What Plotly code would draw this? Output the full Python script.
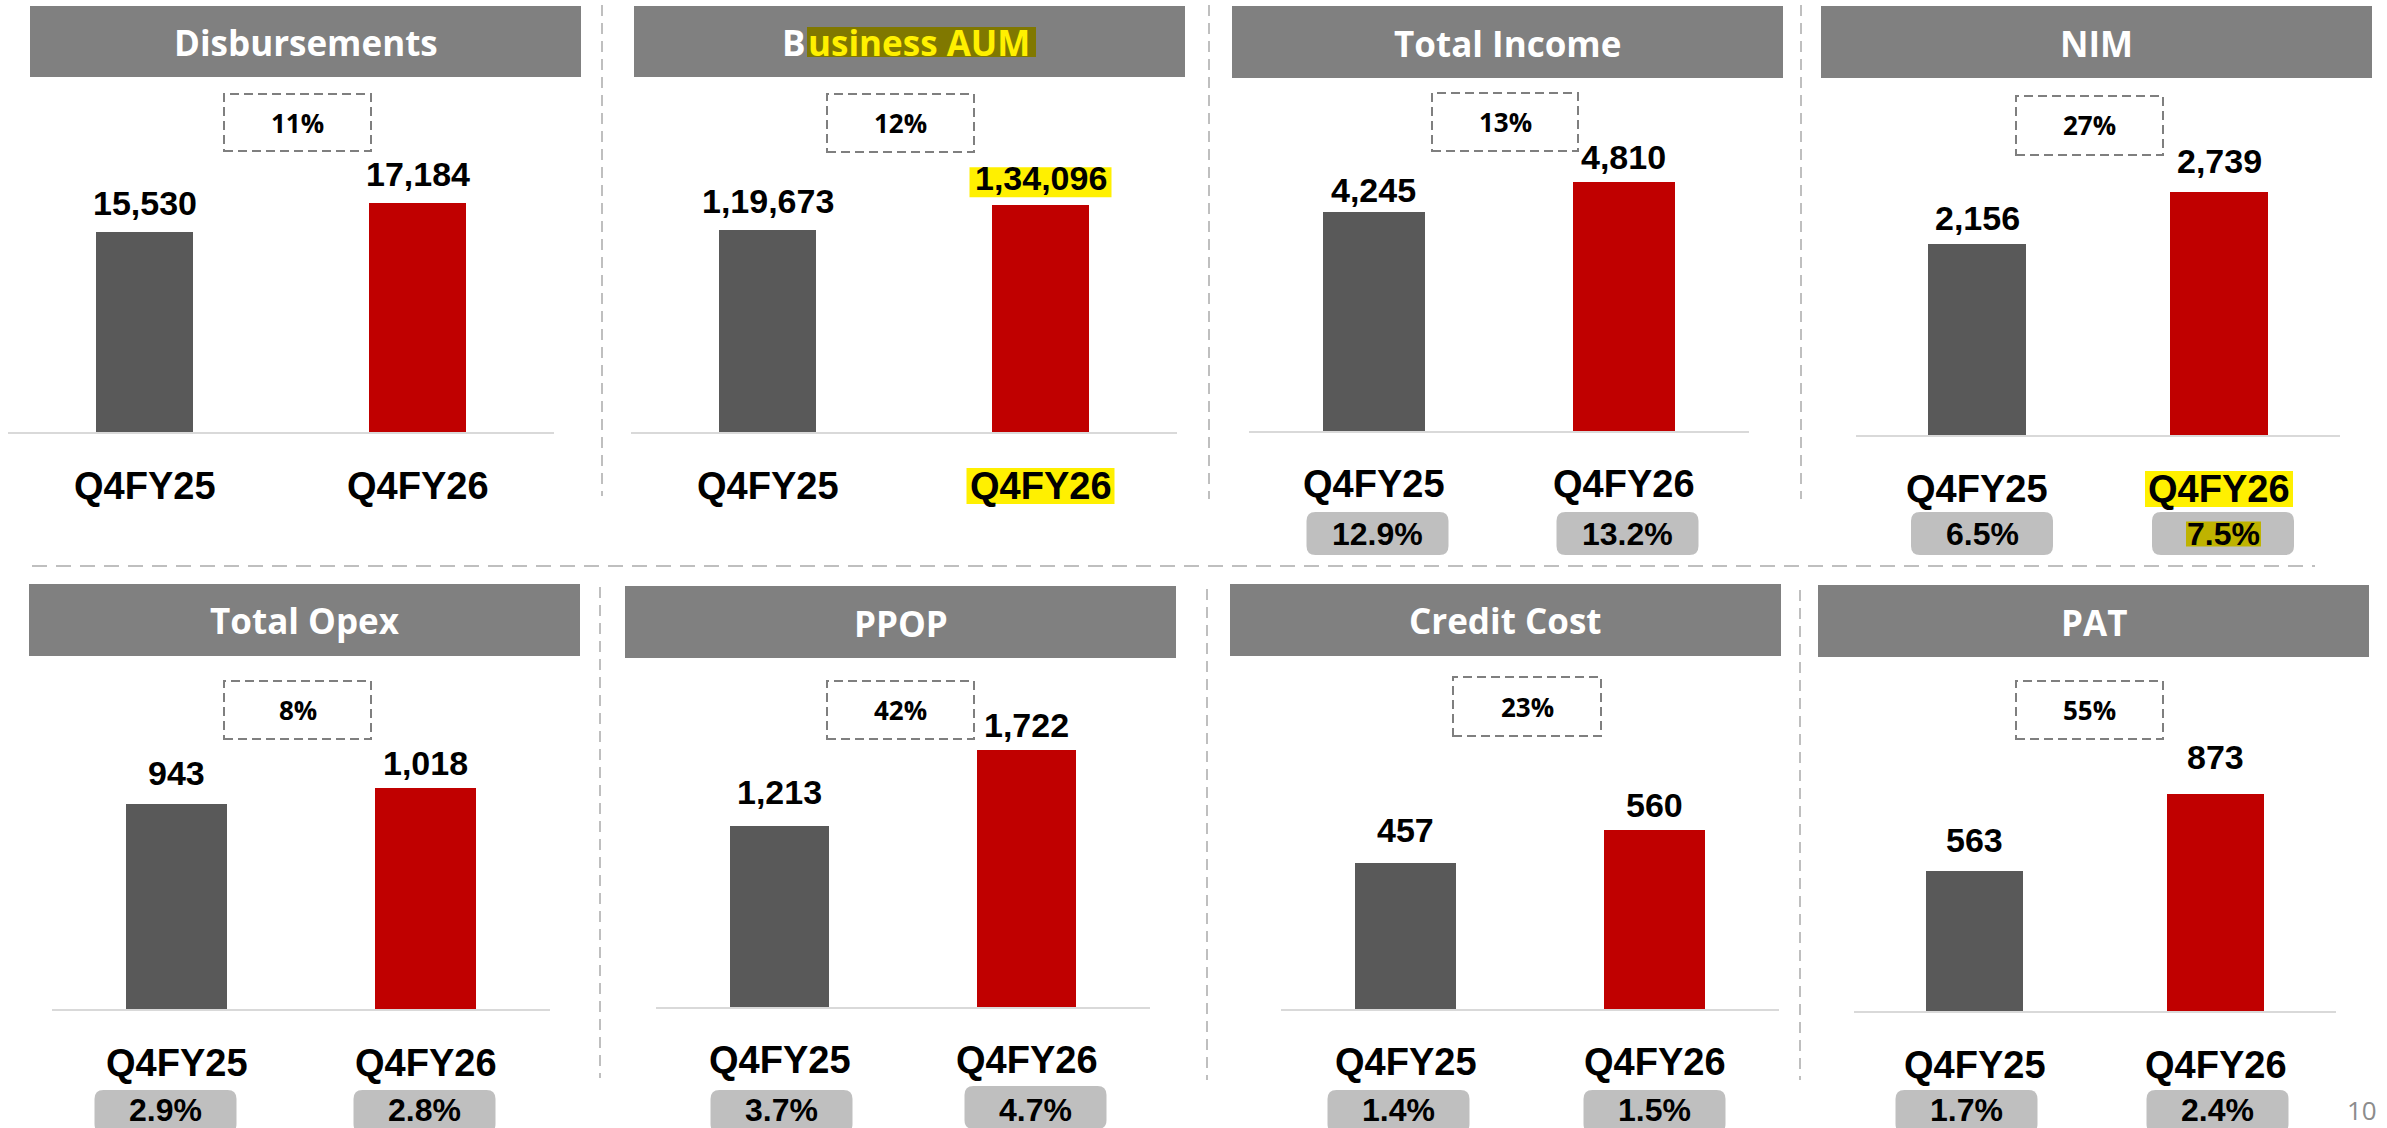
import plotly.graph_objects as go

W, H = 2387, 1128

# ---------------- data ----------------
periods = ["Q4FY25", "Q4FY26"]
titles = ["Disbursements", "Business AUM", "Total Income", "NIM",
          "Total Opex", "PPOP", "Credit Cost", "PAT"]
prev_vals = [15530, 119673, 4245, 2156, 943, 1213, 457, 563]
curr_vals = [17184, 134096, 4810, 2739, 1018, 1722, 560, 873]
growth_pct = ["11%", "12%", "13%", "27%", "8%", "42%", "23%", "55%"]
ratio_prev = [None, None, "12.9%", "6.5%", "2.9%", "3.7%", "1.4%", "1.7%"]
ratio_curr = [None, None, "13.2%", "7.5%", "2.8%", "4.7%", "1.5%", "2.4%"]
page_number = "10"


def indian(n):
    s = str(int(n))
    if len(s) <= 3:
        return s
    last3, rest = s[-3:], s[:-3]
    parts = []
    while len(rest) > 2:
        parts.insert(0, rest[-2:])
        rest = rest[:-2]
    if rest:
        parts.insert(0, rest)
    return ",".join(parts + [last3])


# ---------------- layout constants (pixels) ----------------
PX = [(8, 554), (631, 1177), (1248.5, 1748.5), (1856, 2340),
      (52, 550), (656, 1150), (1281, 1779), (1854, 2336)]
PY = [(90, 432), (90, 432), (90, 431), (90, 435),
      (680, 1009), (680, 1007), (680, 1009), (680, 1011)]
YR = [(4123, 23629), (0, 202307), (0, 6598), (0, 3892),
      (0, 1514), (0, 2191), (0, 1029.6), (0, 1334.4)]
BARW = [0.355, 0.355, 0.405, 0.405, 0.405, 0.40, 0.405, 0.40]
HEAD = [(30, 581, 6, 77), (634, 1185, 6, 77), (1232, 1783, 6, 78), (1821, 2372, 6, 78),
        (29, 580, 584, 656), (625, 1176, 586, 658), (1230, 1781, 584, 656), (1818, 2369, 585, 657)]
GBOX = [(224, 371, 94, 151), (827, 974, 94, 152), (1432, 1578, 93, 151), (2016, 2163, 96, 155),
        (224, 371, 681, 739), (827, 974, 681, 739), (1453, 1601, 677, 736), (2016, 2163, 681, 739)]
CAT_Y = [486, 486, 484, 489, 1063, 1060, 1062, 1065]
LABEL_GAP = [(16, 16), (16, 14), (9, 12), (13, 18), (18, 12), (21, 12), (20, 12), (18, 24)]
PILL_Y = [None, None, (533.5, 533.5), (533.5, 533.5), (1111.5, 1111.5),
          (1111.5, 1107.5), (1111.5, 1111.5), (1111.5, 1111.5)]
PILL_TY = [None, None, 534, 534, 1110, 1110, 1110, 1110]
PILL_DX = [None, None, (4, 4), (5, 4), (-11, -1), (2, 9), (-7, 0), (-8, 2)]
PILL_W, PILL_H, PILL_R = 142, 43, 9

GRAY_BAR = "#595959"
RED_BAR = "#C00000"
HEADER_BG = "#808080"
SEP = "#BFBFBF"
YELLOW = "#FFF000"

TITLE_FONT = dict(family="Open Sans", size=35, color="white")
GROW_FONT = dict(family="Open Sans", size=26, color="black")
VAL_FONT = dict(family="Liberation Sans, Arial", size=34, color="black")
CAT_FONT = dict(family="Liberation Sans, Arial", size=38, color="black")
PILL_FONT = dict(family="Liberation Sans, Arial", size=32, color="black")


def py(p):
    return 1 - p / H


def pxr(p):
    return p / W


def rrect(w, h, r, dx=0.0):
    x0, x1 = dx - w / 2, dx + w / 2
    y0, y1 = -h / 2, h / 2
    return (f"M{x0 + r},{y0} L{x1 - r},{y0} Q{x1},{y0} {x1},{y0 + r} "
            f"L{x1},{y1 - r} Q{x1},{y1} {x1 - r},{y1} L{x0 + r},{y1} "
            f"Q{x0},{y1} {x0},{y1 - r} L{x0},{y0 + r} Q{x0},{y0} {x0 + r},{y0} Z")


fig = go.Figure()
shapes = []
annotations = []
layout_axes = {}

for i in range(8):
    n = i + 1
    xa = "x" if n == 1 else f"x{n}"
    ya = "y" if n == 1 else f"y{n}"
    vals = [prev_vals[i], curr_vals[i]]
    fig.add_trace(go.Bar(
        x=periods, y=vals, width=BARW[i],
        marker=dict(color=[GRAY_BAR, RED_BAR], line=dict(width=0)),
        xaxis=xa, yaxis=ya, hoverinfo="skip", showlegend=False,
    ))
    xkey = "xaxis" if n == 1 else f"xaxis{n}"
    ykey = "yaxis" if n == 1 else f"yaxis{n}"
    layout_axes[xkey] = dict(
        domain=[pxr(PX[i][0]), pxr(PX[i][1])], anchor=ya, type="category",
        range=[-0.5, 1.5], showgrid=False, zeroline=False, showticklabels=False,
        ticks="", showline=True, linecolor="#D9D9D9", linewidth=2, fixedrange=True,
    )
    layout_axes[ykey] = dict(
        domain=[py(PY[i][1]), py(PY[i][0])], anchor=xa, range=list(YR[i]),
        visible=False, fixedrange=True,
    )

    # header
    hx0, hx1, hy0, hy1 = HEAD[i]
    shapes.append(dict(type="rect", xref="paper", yref="paper",
                       x0=pxr(hx0), x1=pxr(hx1), y0=py(hy1), y1=py(hy0),
                       fillcolor=HEADER_BG, line=dict(width=0), layer="below"))
    hc = (hy0 + hy1) / 2 + 1
    if titles[i] == "Business AUM":
        split_x = 807
        shapes.append(dict(type="rect", xref="paper", yref="paper",
                           x0=pxr(split_x), x1=pxr(1036), y0=py(57), y1=py(27),
                           fillcolor="#807800", line=dict(width=0), layer="below"))
        annotations.append(dict(xref="paper", yref="paper", x=pxr(split_x), y=py(hc),
                                text="<b>B</b>", showarrow=False, xanchor="right",
                                yanchor="middle", font=TITLE_FONT, borderpad=0))
        annotations.append(dict(xref="paper", yref="paper", x=pxr(split_x), y=py(hc),
                                text="<b>usiness AUM</b>", showarrow=False, xanchor="left",
                                yanchor="middle", font=dict(TITLE_FONT, color=YELLOW),
                                borderpad=0))
    else:
        annotations.append(dict(xref="paper", yref="paper", x=pxr((hx0 + hx1) / 2), y=py(hc),
                                text=f"<b>{titles[i]}</b>", showarrow=False,
                                xanchor="center", yanchor="middle", font=TITLE_FONT))

    # growth box
    gx0, gx1, gy0, gy1 = GBOX[i]
    shapes.append(dict(type="rect", xref="paper", yref="paper",
                       x0=pxr(gx0), x1=pxr(gx1), y0=py(gy1), y1=py(gy0),
                       line=dict(color="#7F7F7F", width=2, dash="9px,5px"),
                       fillcolor="rgba(0,0,0,0)"))
    annotations.append(dict(xref="paper", yref="paper", x=pxr((gx0 + gx1) / 2),
                            y=py((gy0 + gy1) / 2), text=f"<b>{growth_pct[i]}</b>",
                            showarrow=False, xanchor="center", yanchor="middle",
                            font=GROW_FONT))

    # value labels
    for j in range(2):
        if titles[i] == "Business AUM" and j == 1:
            shapes.append(dict(type="rect", xref=xa, yref=ya,
                               xsizemode="pixel", xanchor=j, x0=-71, x1=71,
                               ysizemode="pixel", yanchor=vals[j], y0=8, y1=38,
                               fillcolor=YELLOW, line=dict(width=0)))
        annotations.append(dict(xref=xa, yref=ya, x=periods[j], y=vals[j],
                                text=f"<b>{indian(vals[j])}</b>", showarrow=False,
                                xanchor="center", yanchor="bottom",
                                yshift=LABEL_GAP[i][j] - 7, borderpad=0, font=VAL_FONT))

    # category labels
    for j in range(2):
        highlighted = (j == 1 and titles[i] in ("Business AUM", "NIM"))
        if highlighted:
            shapes.append(dict(type="rect", xref=xa, yref="paper",
                               xsizemode="pixel", xanchor=j, x0=-74, x1=74,
                               y0=py(CAT_Y[i] + 18), y1=py(CAT_Y[i] - 18),
                               fillcolor=YELLOW, line=dict(width=0)))
        annotations.append(dict(xref=xa, yref="paper", x=periods[j], y=py(CAT_Y[i]),
                                text=f"<b>{periods[j]}</b>", showarrow=False,
                                xanchor="center", yanchor="middle", font=CAT_FONT))

    # ratio pills
    if ratio_prev[i] is not None:
        ratios = [ratio_prev[i], ratio_curr[i]]
        for j in range(2):
            dx = PILL_DX[i][j]
            shapes.append(dict(type="path", xref=xa, yref="paper",
                               xsizemode="pixel", xanchor=j,
                               ysizemode="pixel", yanchor=py(PILL_Y[i][j]),
                               path=rrect(PILL_W, PILL_H, PILL_R, dx),
                               fillcolor="#BFBFBF", line=dict(width=0)))
            if titles[i] == "NIM" and j == 1:
                shapes.append(dict(type="rect", xref=xa, yref="paper",
                                   xsizemode="pixel", xanchor=j, x0=dx - 37, x1=dx + 38,
                                   y0=py(PILL_TY[i] + 12.5), y1=py(PILL_TY[i] - 12.5),
                                   fillcolor="#BFB300", line=dict(width=0)))
            annotations.append(dict(xref=xa, yref="paper", x=periods[j], y=py(PILL_TY[i]),
                                    xshift=dx, text=f"<b>{ratios[j]}</b>", showarrow=False,
                                    xanchor="center", yanchor="middle", font=PILL_FONT))

# separators
VSEP = [(602, 5, 496), (1209, 5, 499), (1801, 5, 499),
        (600, 587, 1078), (1207, 589, 1080), (1800, 590, 1080)]
for x, y0, y1 in VSEP:
    shapes.append(dict(type="line", xref="paper", yref="paper",
                       x0=pxr(x), x1=pxr(x), y0=py(y0), y1=py(y1),
                       line=dict(color=SEP, width=2, dash="11px,7px")))
shapes.append(dict(type="line", xref="paper", yref="paper",
                   x0=pxr(32), x1=pxr(2315), y0=py(566), y1=py(566),
                   line=dict(color=SEP, width=2, dash="15px,9px")))

annotations.append(dict(xref="paper", yref="paper", x=pxr(2362), y=py(1110),
                        text=page_number, showarrow=False, xanchor="center",
                        yanchor="middle", font=dict(family="Open Sans", size=26, color="#8C8C8C")))

fig.update_layout(
    width=W, height=H, autosize=False,
    margin=dict(l=0, r=0, t=0, b=0, pad=0),
    paper_bgcolor="white", plot_bgcolor="white",
    showlegend=False, bargap=0,
    shapes=shapes, annotations=annotations,
    **layout_axes,
)

fig.write_html("out.html", config={"displayModeBar": False},
               post_script="document.body.style.margin='0px';document.body.style.padding='0px';")
